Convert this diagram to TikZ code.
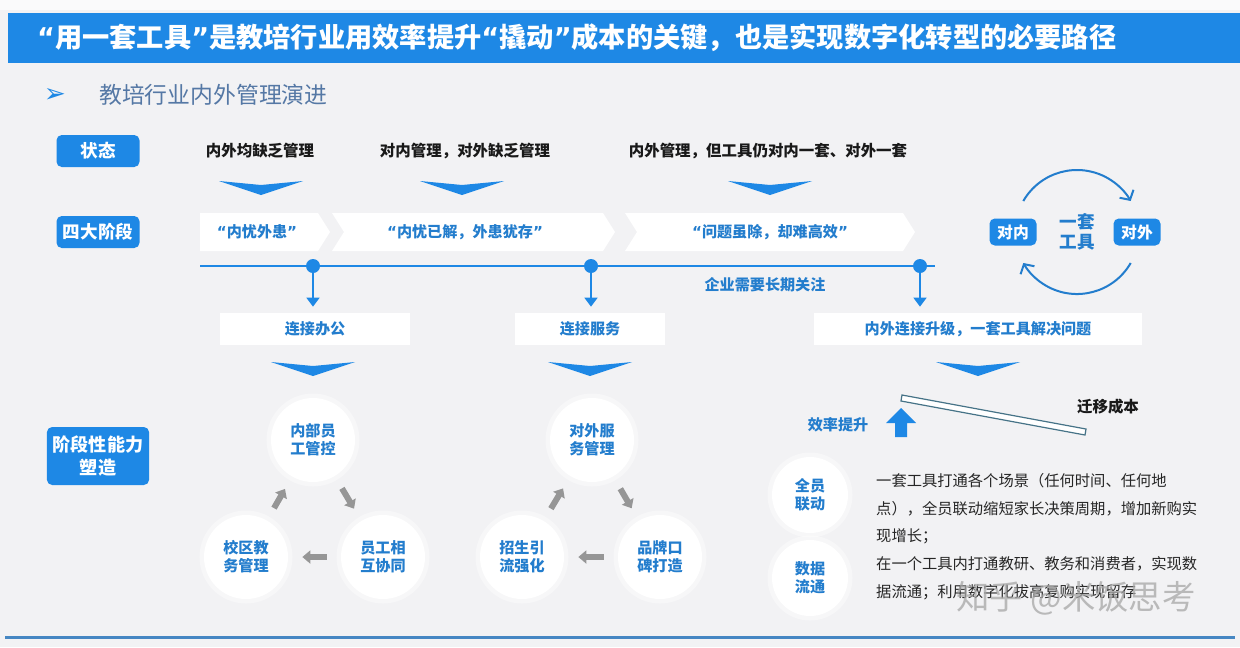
\documentclass[tikz,border=0pt]{standalone}
\usepackage{fontspec}
\setmainfont{Noto Sans CJK SC}
\newfontfamily\symfont{DejaVu Sans}
\usetikzlibrary{arrows.meta}

\newdimen\pxu \pxu=0.02cm
\newcommand\oq{{\symfont“}}
\newcommand\cq{{\symfont”}}

\definecolor{mainblue}{RGB}{30,136,229}
\definecolor{textblue}{RGB}{35,125,205}
\definecolor{greyblue}{RGB}{85,120,165}
\definecolor{bggrey}{RGB}{242,242,244}
\definecolor{arrowgrey}{RGB}{150,150,150}
\definecolor{rulecol}{RGB}{70,135,195}
\definecolor{barcol}{RGB}{70,115,135}

\tikzset{
  labelbox/.style={fill=mainblue, rounded corners=3pt, text=white, align=center,
    font=\bfseries\fontsize{10}{12}\selectfont, minimum width=83\pxu, minimum height=32\pxu},
  statetext/.style={font=\bfseries\fontsize{8.8}{10}\selectfont, text=black!90},
  bluetext/.style={font=\bfseries\fontsize{8.6}{10}\selectfont, text=textblue},
  whitebox/.style={fill=white, minimum height=32\pxu, bluetext},
  blob/.style={circle, fill=white, minimum size=84\pxu, align=center, inner sep=0pt,
    font=\bfseries\fontsize{8.6}{10.2}\selectfont, text=textblue,
    preaction={draw=white, line width=9\pxu, opacity=.4}},
  cycarrow/.style={draw=arrowgrey, line width=6\pxu, shorten <=14\pxu, shorten >=14\pxu,
    -{Triangle[width=0.26cm,length=0.16cm]}},
  droparrow/.style={draw=mainblue, line width=1.6\pxu, -{Triangle[width=0.26cm,length=0.18cm]}}
}

\begin{document}
\begin{tikzpicture}[x=1\pxu, y=-1\pxu]
  % background
  \fill[bggrey] (0,0) rectangle (1240,647);
  \fill[white!60!bggrey] (0,0) rectangle (1240,10);

  % title bar
  \fill[mainblue] (8,13) rectangle (1240,63);
  \node[anchor=west, text=white, font=\bfseries\fontsize{15.5}{17}\selectfont] (title) at (31,38)
    {\oq 用一套工具\cq 是教培行业用效率提升\oq 撬动\cq 成本的关键，也是实现数字化转型的必要路径};
  \node[text=mainblue, font=\symfont\fontsize{15}{17}\selectfont] (bullet) at (55,95) {➢};
  \node[anchor=west, text=greyblue, font=\fontsize{13}{15}\selectfont] (subtitle) at (93,95) {教培行业内外管理演进};

  % left labels
  \node[labelbox] (state) at (98,151) {状态};
  \node[labelbox] (stages) at (98,232) {四大阶段};
  \node[labelbox, minimum width=100\pxu, minimum height=58\pxu, font=\bfseries\fontsize{10.3}{13}\selectfont]
    (ability) at (98,456) {阶段性能力\\塑造};

  % states
  \node[statetext] (s1) at (260,151) {内外均缺乏管理};
  \node[statetext] (s2) at (465,151) {对内管理，对外缺乏管理};
  \node[statetext] (s3) at (768,151) {内外管理，但工具仍对内一套、对外一套};

  % blue chevrons
  \foreach \cx/\cy in {261/181, 462/181, 770/181, 313/362, 590/362, 978/362}
    \fill[mainblue] (\cx-42,\cy) -- (\cx,\cy+4) -- (\cx+42,\cy) -- (\cx,\cy+14) -- cycle;

  % stage banners
  \fill[white] (200,213) -- (318,213) -- (330,232) -- (318,251) -- (200,251) -- cycle;
  \fill[white] (332,213) -- (603,213) -- (615,232) -- (603,251) -- (332,251) -- (344,232) -- cycle;
  \fill[white] (625,213) -- (903,213) -- (915,232) -- (903,251) -- (625,251) -- (637,232) -- cycle;
  \node[bluetext] (p1) at (257,232) {\oq 内忧外患\cq};
  \node[bluetext] (p2) at (465,232) {\oq 内忧已解，外患犹存\cq};
  \node[bluetext] (p3) at (770,232) {\oq 问题虽除，却难高效\cq};

  % timeline
  \draw[mainblue, line width=2\pxu] (200,266) -- (935,266);
  \node[circle, fill=mainblue, minimum size=14\pxu, inner sep=0pt] (d1) at (313,266) {};
  \node[circle, fill=mainblue, minimum size=14\pxu, inner sep=0pt] (d2) at (591,266) {};
  \node[circle, fill=mainblue, minimum size=14\pxu, inner sep=0pt] (d3) at (920,266) {};
  \node[bluetext] (focus) at (765,285) {企业需要长期关注};

  % connection boxes
  \node[whitebox, minimum width=190\pxu] (b1) at (315,329) {连接办公};
  \node[whitebox, minimum width=150\pxu] (b2) at (590,329) {连接服务};
  \node[whitebox, minimum width=328\pxu] (b3) at (978,329) {内外连接升级，一套工具解决问题};
  \draw[droparrow, shorten >=6\pxu] (d1) -- (d1 |- b1.north);
  \draw[droparrow, shorten >=6\pxu] (d2) -- (d2 |- b2.north);
  \draw[droparrow, shorten >=6\pxu] (d3) -- (d3 |- b3.north);

  % internal cycle
  \node[blob] (c11) at (313,440) {内部员\\工管控};
  \node[blob] (c12) at (383,557) {员工相\\互协同};
  \node[blob] (c13) at (246,557) {校区教\\务管理};
  \draw[cycarrow] (c11) -- (c12);
  \draw[cycarrow] (c12) -- (c13);
  \draw[cycarrow] (c13) -- (c11);

  % external cycle
  \node[blob] (c21) at (592,440) {对外服\\务管理};
  \node[blob] (c22) at (660,557) {品牌口\\碑打造};
  \node[blob] (c23) at (522,557) {招生引\\流强化};
  \draw[cycarrow] (c21) -- (c22);
  \draw[cycarrow] (c22) -- (c23);
  \draw[cycarrow] (c23) -- (c21);

  % seesaw
  \draw[barcol, fill=white, line width=1.2\pxu] (902,395) -- (1086,429) -- (1085,435) -- (901,401) -- cycle;
  \fill[mainblue] (886,423) -- (901,408) -- (916,423) -- (907,423) -- (907,437) -- (895,437) -- (895,423) -- cycle;
  \node[bluetext] (gain) at (838,425) {效率提升};
  \node[statetext] (cost) at (1108,407) {迁移成本};

  % one tool
  \node[blob, minimum size=76\pxu] (r1) at (810,495) {全员\\联动};
  \node[blob, minimum size=76\pxu] (r2) at (810,578) {数据\\流通};
  \node[anchor=north west, align=left, text=black!85, font=\fontsize{8.7}{15.8}\selectfont] (desc) at (870,467)
    {一套工具打通各个场景（任何时间、任何地\\
     点），全员联动缩短家长决策周期，增加新购实\\
     现增长；\\
     在一个工具内打通教研、教务和消费者，实现数\\
     据流通；利用数字化拔高复购实现留存};

  % inside / outside loop
  \node[labelbox, minimum width=47\pxu, minimum height=27\pxu, font=\bfseries\fontsize{9}{11}\selectfont] (inner) at (1013,232) {对内};
  \node[labelbox, minimum width=47\pxu, minimum height=27\pxu, font=\bfseries\fontsize{9}{11}\selectfont] (outer) at (1137,232) {对外};
  \node[align=center, text=textblue, font=\bfseries\fontsize{10}{11.5}\selectfont] (tool) at (1077,232) {一套\\工具};
  \draw[textblue, line width=2\pxu, -{Straight Barb[length=0.14cm,width=0.32cm]}]
    ([shift={(-150:62)}]tool.center) arc[start angle=-150, end angle=-30, radius=62];
  \draw[textblue, line width=2\pxu, -{Straight Barb[length=0.14cm,width=0.32cm]}]
    ([shift={(30:62)}]tool.center) arc[start angle=30, end angle=150, radius=62];

  % watermark
  \node[text=black!35, opacity=.75, font=\fontsize{19}{22}\selectfont] (mark) at (1076,598) {知乎 @米饭思考};

  % bottom rule
  \draw[rulecol, line width=3\pxu] (5,637) -- (1235,637);
\end{tikzpicture}
\end{document}
